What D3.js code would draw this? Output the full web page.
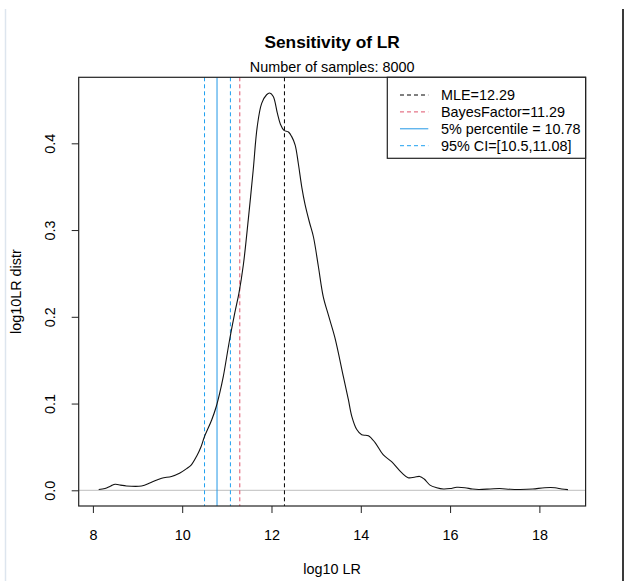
<!DOCTYPE html>
<html>
<head>
<meta charset="utf-8">
<script src="https://cdn.jsdelivr.net/npm/d3@7"></script>
<style>
  body { margin: 0; background: #fff; }
  svg text { font-family: "Liberation Sans", Arial, sans-serif; fill: #000; }
</style>
</head>
<body>
<div id="chart"></div>
<script>
/**
 * DATA
 * */
const logLR = [8.13, 8.27, 8.40, 8.50, 8.62, 8.75, 9.09, 9.30, 9.54, 9.76, 9.95, 10.10, 10.20,
  10.32, 10.42, 10.50, 10.66, 10.76, 10.84, 10.92, 11.06, 11.18, 11.27, 11.37, 11.48, 11.59,
  11.68, 11.78, 11.89, 11.96, 12.04, 12.13, 12.20, 12.28, 12.38, 12.45, 12.53, 12.60, 12.68,
  12.75, 12.85, 12.94, 13.05, 13.16, 13.28, 13.42, 13.61, 13.72, 13.80, 13.91, 14.02, 14.17,
  14.32, 14.50, 14.69, 14.92, 15.06, 15.20, 15.32, 15.42, 15.55, 15.70, 15.85, 16.00, 16.15,
  16.33, 16.50, 16.64, 16.90, 17.11, 17.35, 17.57, 17.85, 18.12, 18.35, 18.50, 18.64];
const density = [0.001, 0.002, 0.005, 0.007, 0.006, 0.005, 0.005, 0.009, 0.014, 0.016, 0.020, 0.025, 0.029,
  0.039, 0.050, 0.062, 0.081, 0.096, 0.112, 0.131, 0.173, 0.205, 0.227, 0.260, 0.312, 0.369,
  0.419, 0.446, 0.456, 0.458, 0.454, 0.435, 0.422, 0.415, 0.413, 0.408, 0.398, 0.377, 0.349,
  0.330, 0.309, 0.292, 0.258, 0.223, 0.201, 0.176, 0.131, 0.105, 0.085, 0.070, 0.064, 0.063,
  0.055, 0.041, 0.033, 0.020, 0.0145, 0.015, 0.016, 0.013, 0.006, 0.003, 0.0015, 0.002, 0.0035,
  0.003, 0.0015, 0.001, 0.0015, 0.002, 0.0012, 0.001, 0.0015, 0.003, 0.003, 0.0015, 0.0008];

const xTicks = [8, 10, 12, 14, 16, 18];
const yTicks = [0, 0.1, 0.2, 0.3, 0.4];

const markerValues = [12.29, 11.29, 10.78, 10.5, 11.08];
const markerColors = ["#000000", "#DF536B", "#2297E6", "#1EA0F0", "#1EA0F0"];
const markerDashed = [true, true, false, true, true];

const legendLabels = ["MLE=12.29", "BayesFactor=11.29", "5% percentile = 10.78", "95% CI=[10.5,11.08]"];
const legendColors = ["#000000", "#DF536B", "#2297E6", "#1EA0F0"];
const legendDashed = [true, true, false, true];

/**
 * LAYOUT
 * */
const width = 627, height = 581,
  margin = { top: 77.3, bottom: 75, left: 78.7, right: 41.4 };
const fs = 14.4;

const svg = d3.select("#chart").append("svg")
  .attr("width", width)
  .attr("height", height);

svg.append("rect").attr("width", width).attr("height", height).attr("fill", "#fff");

// page frame lines
svg.append("line").attr("x1", 5.5).attr("x2", 5.5).attr("y1", 9).attr("y2", height)
  .attr("stroke", "#dde5ee").attr("stroke-width", 1.5);
svg.append("line").attr("x1", 623).attr("x2", 623).attr("y1", 9).attr("y2", height)
  .attr("stroke", "#3a3a3a").attr("stroke-width", 2);

const x = d3.scaleLinear()
  .domain([7.682, 19.035])
  .range([margin.left, width - margin.right]);
const y = d3.scaleLinear()
  .domain([-0.0181, 0.4761])
  .range([height - margin.bottom, margin.top]);

const plotW = width - margin.left - margin.right,
  plotH = height - margin.top - margin.bottom;

// zero reference line
svg.append("line")
  .attr("x1", margin.left).attr("x2", width - margin.right)
  .attr("y1", y(0)).attr("y2", y(0))
  .attr("stroke", "#bebebe").attr("stroke-width", 1);

// vertical markers
svg.selectAll(".marker")
  .data(markerValues)
  .join("line")
  .attr("class", "marker")
  .attr("x1", d => x(d)).attr("x2", d => x(d))
  .attr("y1", margin.top).attr("y2", height - margin.bottom)
  .attr("stroke", (d, i) => markerColors[i])
  .attr("stroke-width", 1)
  .attr("stroke-dasharray", (d, i) => markerDashed[i] ? "4,3" : null);

// density curve
const pts = logLR.map((d, i) => [d, density[i]]);
svg.append("path")
  .datum(pts)
  .attr("fill", "none")
  .attr("stroke", "#111")
  .attr("stroke-width", 1.1)
  .attr("d", d3.line().x(d => x(d[0])).y(d => y(d[1])).curve(d3.curveCatmullRom.alpha(0.5)));

// box
svg.append("rect")
  .attr("x", margin.left).attr("y", margin.top)
  .attr("width", plotW).attr("height", plotH)
  .attr("fill", "none").attr("stroke", "#222").attr("stroke-width", 1.2);

// axes
const xAxis = svg.append("g")
  .attr("transform", `translate(0,${height - margin.bottom})`)
  .call(d3.axisBottom(x).tickValues(xTicks).tickFormat(d3.format("d")).tickSize(7).tickPadding(16.8));
xAxis.select(".domain").remove();
xAxis.selectAll("line").attr("stroke", "#222");
xAxis.selectAll("text").attr("font-size", fs).attr("font-family", "Liberation Sans, Arial, sans-serif");

const yAxis = svg.append("g")
  .attr("transform", `translate(${margin.left},0)`)
  .call(d3.axisLeft(y).tickValues(yTicks).tickFormat(d3.format(".1f")).tickSize(7));
yAxis.select(".domain").remove();
yAxis.selectAll("line").attr("stroke", "#222");
yAxis.selectAll("text")
  .attr("x", 0).attr("dy", null)
  .attr("text-anchor", "middle")
  .attr("transform", "translate(-23.7,0) rotate(-90)")
  .attr("font-size", fs).attr("font-family", "Liberation Sans, Arial, sans-serif");

// titles
const cx = margin.left + plotW / 2;
svg.append("text")
  .attr("x", cx).attr("y", 47.7)
  .attr("text-anchor", "middle")
  .attr("font-size", 17.3).attr("font-weight", "bold")
  .text("Sensitivity of LR");
svg.append("text")
  .attr("x", cx).attr("y", 71.7)
  .attr("text-anchor", "middle")
  .attr("font-size", fs)
  .text("Number of samples: 8000");
svg.append("text")
  .attr("x", cx).attr("y", 574)
  .attr("text-anchor", "middle")
  .attr("font-size", fs)
  .text("log10 LR");
svg.append("text")
  .attr("transform", `translate(21,${margin.top + plotH / 2}) rotate(-90)`)
  .attr("text-anchor", "middle")
  .attr("font-size", fs)
  .text("log10LR distr");

// legend
const legW = 198.3, legH = 81, rowH = 16.9;
const legend = svg.append("g")
  .attr("transform", `translate(${width - margin.right - legW},${margin.top})`);
legend.append("rect")
  .attr("width", legW).attr("height", legH)
  .attr("fill", "#fff").attr("stroke", "#222").attr("stroke-width", 1.2);
const rows = legend.selectAll(".row")
  .data(legendLabels)
  .join("g")
  .attr("class", "row")
  .attr("transform", (d, i) => `translate(0,${17.7 + i * rowH})`);
rows.append("line")
  .attr("x1", 12.7).attr("x2", 41)
  .attr("stroke", (d, i) => legendColors[i])
  .attr("stroke-width", 1)
  .attr("stroke-dasharray", (d, i) => legendDashed[i] ? "4,3" : null);
rows.append("text")
  .attr("x", 53.7).attr("dy", "0.35em")
  .attr("font-size", fs)
  .text(d => d);
</script>
</body>
</html>
